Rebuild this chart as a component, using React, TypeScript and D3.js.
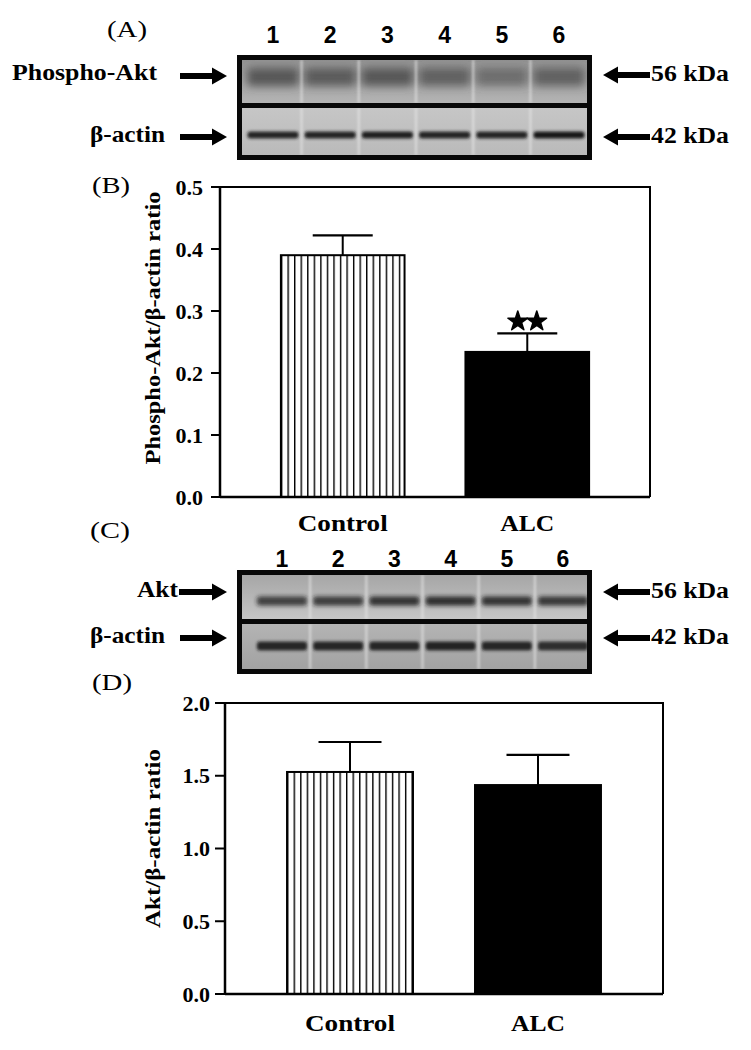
import React from "react";
import * as d3 from "d3";

// ---------- data ----------
const groups = ["Control", "ALC"];
const pAktRatio = [0.39, 0.234];
const pAktErr = [0.032, 0.03];
const aktRatio = [1.526, 1.436];
const aktErr = [0.206, 0.207];
const ticksB = [0, 0.1, 0.2, 0.3, 0.4, 0.5];
const ticksD = [0, 0.5, 1.0, 1.5, 2.0];
const lanes = ["1", "2", "3", "4", "5", "6"];
const pAktBand = [0.85, 0.8, 0.85, 0.72, 0.58, 0.72];
const actinBandA = [0.92, 0.92, 0.95, 0.92, 0.92, 1.0];
const aktBand = [0.8, 0.82, 0.88, 0.9, 0.88, 0.85];
const actinBandC = [0.9, 0.9, 0.9, 0.92, 0.9, 0.85];
const markerLabels = ["56 kDa", "42 kDa"];

const SERIF = "Liberation Serif";
const NARROW = "Liberation Sans Narrow, Liberation Sans";

function Arrow({ x1, x2, y, dir }: { x1: number; x2: number; y: number; dir: "right" | "left" }) {
  const head = 15, hh = 8.5, sh = 3;
  let d: string;
  if (dir === "right") {
    d = `M${x1},${y - sh}L${x2 - head},${y - sh}L${x2 - head},${y - hh}L${x2},${y}L${x2 - head},${y + hh}L${x2 - head},${y + sh}L${x1},${y + sh}Z`;
  } else {
    d = `M${x2},${y - sh}L${x1 + head},${y - sh}L${x1 + head},${y - hh}L${x1},${y}L${x1 + head},${y + hh}L${x1 + head},${y + sh}L${x2},${y + sh}Z`;
  }
  return <path d={d} fill="#000" />;
}

type Row = {
  y: number; h: number; bgTop: string; bgBot: string;
  bandY: number; bandH: number; bandColor: string; blur: number; vals: number[];
};

function Blot({ id, x0, x1, y0, y1, rows, laneScale }: {
  id: string; x0: number; x1: number; y0: number; y1: number; rows: Row[]; laneScale: d3.ScalePoint<string>;
}) {
  const inX0 = x0 + 5, inX1 = x1 - 5;
  const step = laneScale.step();
  const seps = lanes.slice(1).map((l, i) => ((laneScale(lanes[i]) as number) + (laneScale(l) as number)) / 2);
  return (
    <g>
      <defs>
        {rows.map((r, i) => (
          <React.Fragment key={i}>
            <linearGradient id={`${id}-bg${i}`} x1="0" y1="0" x2="0" y2="1">
              <stop offset="0" stopColor={r.bgTop} />
              <stop offset="1" stopColor={r.bgBot} />
            </linearGradient>
            <filter id={`${id}-blur${i}`} x="-20%" y="-100%" width="140%" height="300%">
              <feGaussianBlur stdDeviation={r.blur} />
            </filter>
            <clipPath id={`${id}-clip${i}`}>
              <rect x={inX0} y={r.y} width={inX1 - inX0} height={r.h} />
            </clipPath>
          </React.Fragment>
        ))}
        <filter id={`${id}-sepblur`} x="-200%" y="0%" width="500%" height="100%">
          <feGaussianBlur stdDeviation="1" />
        </filter>
      </defs>
      <rect x={x0} y={y0} width={x1 - x0} height={y1 - y0} fill="#080808" />
      {rows.map((r, i) => (
        <g key={i} clipPath={`url(#${id}-clip${i})`}>
          <rect x={inX0} y={r.y} width={inX1 - inX0} height={r.h} fill={`url(#${id}-bg${i})`} />
          <g filter={`url(#${id}-blur${i})`}>
            {lanes.map((l, j) => {
              const cx = laneScale(l) as number;
              return (
                <rect key={l} x={cx - step / 2 + 3} y={r.bandY - r.bandH / 2}
                  width={step - 6} height={r.bandH} rx={3}
                  fill={r.bandColor} opacity={r.vals[j]} />
              );
            })}
          </g>
          <g filter={`url(#${id}-sepblur)`}>
            {seps.map((sx, k) => (
              <rect key={k} x={sx - 1.2} y={r.y} width={2.4} height={r.h} fill="#e8e8e8" opacity={0.6} />
            ))}
          </g>
        </g>
      ))}
    </g>
  );
}

function BarPanel({ xScale, yScale, values, errs, ticks, tickEnd, tickLen, capW,
  yLabel, yLabelLen, yLabelX, catBaseline, hatchId, stars }: any) {
  const [xl, xr] = xScale.range();
  const [yb, yt] = yScale.range();
  const bw = xScale.bandwidth();
  const fmt = d3.format(".1f");
  const ctrlX = xScale(groups[0]);
  const catWidths: Record<string, number> = { Control: 90, ALC: 54 };
  const yMid = (yb + yt) / 2;
  return (
    <g>
      <defs>
        <pattern id={hatchId} patternUnits="userSpaceOnUse" x={ctrlX} y={0} width={6.55} height={10}>
          <rect width={6.55} height={10} fill="#fff" />
          <line x1={0.7} y1={0} x2={0.7} y2={10} stroke="#000" strokeWidth={1.4} />
        </pattern>
      </defs>
      {groups.map((g, i) => {
        const x = xScale(g);
        const yTop = yScale(values[i]);
        const yErr = yScale(values[i] + errs[i]);
        const cx = x + bw / 2;
        return (
          <g key={g}>
            <rect x={x} y={yTop} width={bw} height={yb - yTop}
              fill={i === 0 ? `url(#${hatchId})` : "#000"} stroke="#000" strokeWidth={2} />
            <line x1={cx} x2={cx} y1={yTop} y2={yErr} stroke="#000" strokeWidth={2} />
            <line x1={cx - capW / 2} x2={cx + capW / 2} y1={yErr} y2={yErr} stroke="#000" strokeWidth={2.2} />
            {stars && i === 1 &&
              [-9.5, 9.5].map((dx, k) => (
                <path key={k} d={d3.symbol().type(d3.symbolStar).size(120)() as string}
                  transform={`translate(${cx + dx},${yErr - 12})`} fill="#000"
                  stroke="#000" strokeWidth={1.5} strokeLinejoin="round" />
              ))}
            <text x={cx} y={catBaseline} textAnchor="middle" fontFamily={SERIF} fontWeight="bold"
              fontSize={23} textLength={catWidths[g]} lengthAdjust="spacingAndGlyphs">{g}</text>
          </g>
        );
      })}
      {/* frame */}
      <path d={`M${xl},${yt}L${xr},${yt}L${xr},${yb}`} fill="none" stroke="#000" strokeWidth={2} />
      <line x1={xl} x2={xr} y1={yb} y2={yb} stroke="#000" strokeWidth={2.5} />
      <line x1={xl} x2={xl} y1={yt - 1} y2={yb + 1} stroke="#000" strokeWidth={2.5} />
      {ticks.map((t: number) => (
        <g key={t}>
          <line x1={xl - tickLen} x2={xl} y1={yScale(t)} y2={yScale(t)} stroke="#000" strokeWidth={2} />
          <text x={tickEnd} y={yScale(t)} dy="0.35em" textAnchor="end" fontFamily={SERIF}
            fontWeight="bold" fontSize={22}>{fmt(t)}</text>
        </g>
      ))}
      <text transform={`rotate(-90)`} x={-yMid + (yLabelX.shift || 0)} y={yLabelX.x} textAnchor="middle"
        fontFamily={SERIF} fontWeight="bold" fontSize={21} textLength={yLabelLen}
        lengthAdjust="spacingAndGlyphs">{yLabel}</text>
    </g>
  );
}

export default function App() {
  const W = 751, H = 1050;
  const yB = d3.scaleLinear().domain([0, 0.5]).range([497, 187]);
  const xB = d3.scaleBand().domain(groups).range([220, 650]).paddingInner(0.33).paddingOuter(0.33);
  const yD = d3.scaleLinear().domain([0, 2]).range([994, 703]);
  const xD = d3.scaleBand().domain(groups).range([225, 663]).paddingInner(0.33).paddingOuter(0.33);
  const laneA = d3.scalePoint<string>().domain(lanes).range([273, 559]);
  const laneC = d3.scalePoint<string>().domain(lanes).range([282, 563]);

  const rowsA: Row[] = [
    { y: 60, h: 43, bgTop: "#929292", bgBot: "#b4b4b4", bandY: 77, bandH: 18, bandColor: "#4a4a4a", blur: 4, vals: pAktBand },
    { y: 108, h: 47, bgTop: "#c6c6c6", bgBot: "#bababa", bandY: 135, bandH: 7, bandColor: "#151515", blur: 1.4, vals: actinBandA },
  ];
  const rowsC: Row[] = [
    { y: 575, h: 44, bgTop: "#a6a6a6", bgBot: "#c6c6c6", bandY: 601, bandH: 9, bandColor: "#1e1e1e", blur: 2, vals: aktBand },
    { y: 624, h: 45, bgTop: "#b4b4b4", bgBot: "#a2a2a2", bandY: 646, bandH: 9, bandColor: "#1a1a1a", blur: 1.8, vals: actinBandC },
  ];

  const bold = { fontFamily: SERIF, fontWeight: "bold" as const };

  return (
    <div style={{ position: "absolute", left: 0, top: 0 }}>
      <svg width={W} height={H} viewBox={`0 0 ${W} ${H}`} style={{ display: "block", background: "#fff" }}>
        <rect width={W} height={H} fill="#fff" />
        {/* Panel A */}
        <text x={107} y={37} fontFamily={SERIF} fontSize={24} textLength={40} lengthAdjust="spacingAndGlyphs">(A)</text>
        {lanes.map((l) => (
          <text key={l} x={laneA(l)} y={43} textAnchor="middle" fontFamily={NARROW} fontWeight="bold" fontSize={23}>{l}</text>
        ))}
        <Blot id="blotA" x0={237} x1={592} y0={55} y1={160} rows={rowsA} laneScale={laneA} />
        <text x={12} y={80} {...bold} fontSize={23} textLength={145} lengthAdjust="spacingAndGlyphs">Phospho-Akt</text>
        <Arrow x1={180} x2={227} y={76} dir="right" />
        <text x={90} y={142} {...bold} fontSize={23} textLength={75} lengthAdjust="spacingAndGlyphs">β-actin</text>
        <Arrow x1={180} x2={227} y={137} dir="right" />
        <Arrow x1={603} x2={650} y={75} dir="left" />
        <text x={651} y={81} {...bold} fontSize={23} textLength={78} lengthAdjust="spacingAndGlyphs">{markerLabels[0]}</text>
        <Arrow x1={603} x2={650} y={137} dir="left" />
        <text x={651} y={143} {...bold} fontSize={23} textLength={78} lengthAdjust="spacingAndGlyphs">{markerLabels[1]}</text>

        {/* Panel B */}
        <text x={92} y={193} fontFamily={SERIF} fontSize={24} textLength={38} lengthAdjust="spacingAndGlyphs">(B)</text>
        <BarPanel xScale={xB} yScale={yB} values={pAktRatio} errs={pAktErr} ticks={ticksB}
          tickEnd={203} tickLen={9} capW={60} yLabel="Phospho-Akt/β-actin ratio" yLabelLen={273}
          yLabelX={{ x: 160, shift: 14 }} catBaseline={531} hatchId="hatchB" stars />

        {/* Panel C */}
        <text x={90} y={538} fontFamily={SERIF} fontSize={24} textLength={40} lengthAdjust="spacingAndGlyphs">(C)</text>
        {lanes.map((l) => (
          <text key={l} x={laneC(l)} y={567} textAnchor="middle" fontFamily={NARROW} fontWeight="bold" fontSize={23}>{l}</text>
        ))}
        <Blot id="blotC" x0={237} x1={592} y0={570} y1={674} rows={rowsC} laneScale={laneC} />
        <text x={137} y={597} {...bold} fontSize={23} textLength={41} lengthAdjust="spacingAndGlyphs">Akt</text>
        <Arrow x1={179} x2={227} y={592} dir="right" />
        <text x={90} y={643} {...bold} fontSize={23} textLength={75} lengthAdjust="spacingAndGlyphs">β-actin</text>
        <Arrow x1={180} x2={227} y={638} dir="right" />
        <Arrow x1={603} x2={650} y={592} dir="left" />
        <text x={651} y={598} {...bold} fontSize={23} textLength={78} lengthAdjust="spacingAndGlyphs">{markerLabels[0]}</text>
        <Arrow x1={603} x2={650} y={638} dir="left" />
        <text x={651} y={644} {...bold} fontSize={23} textLength={78} lengthAdjust="spacingAndGlyphs">{markerLabels[1]}</text>

        {/* Panel D */}
        <text x={92} y={690} fontFamily={SERIF} fontSize={24} textLength={40} lengthAdjust="spacingAndGlyphs">(D)</text>
        <BarPanel xScale={xD} yScale={yD} values={aktRatio} errs={aktErr} ticks={ticksD}
          tickEnd={210} tickLen={10} capW={63} yLabel="Akt/β-actin ratio" yLabelLen={179}
          yLabelX={{ x: 160, shift: 10 }} catBaseline={1031} hatchId="hatchD" stars={false} />
      </svg>
    </div>
  );
}
